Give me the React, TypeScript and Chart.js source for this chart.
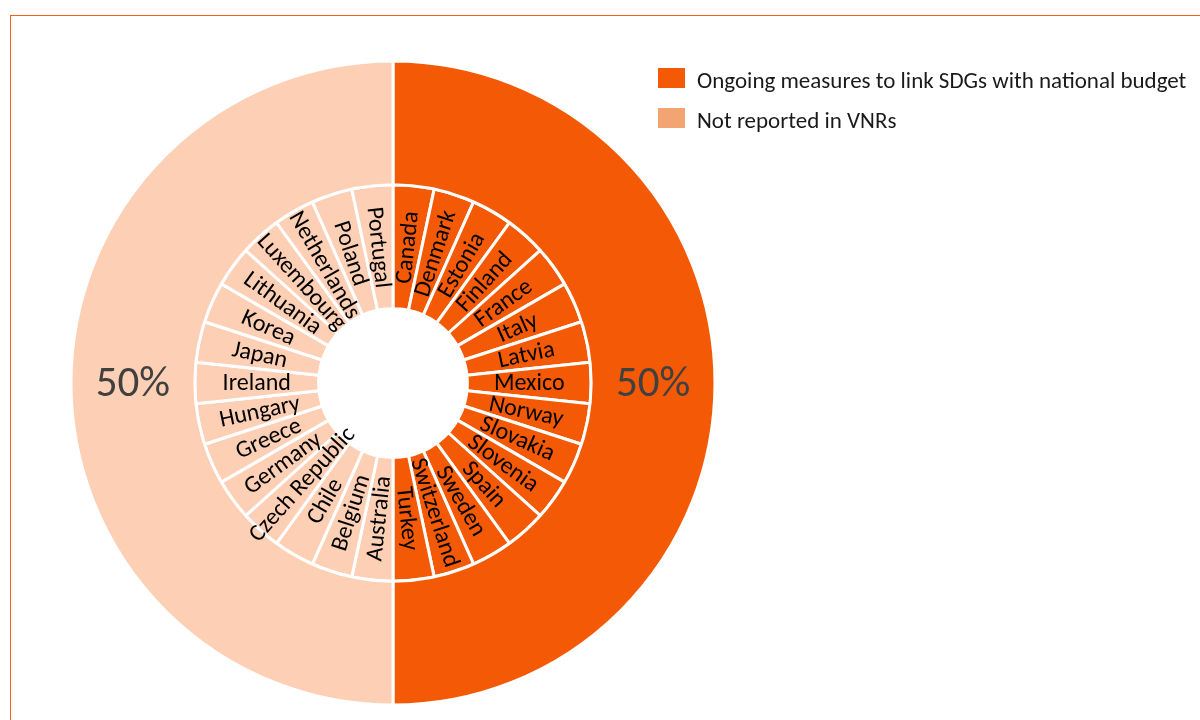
import React, { useEffect, useRef } from "react";
import { Chart, registerables } from "chart.js";

Chart.register(...registerables);

// ---- data ----
const groupLabels = ["Ongoing measures to link SDGs with national budget", "Not reported in VNRs"];
const groupValues = [50, 50];
const ongoingCountries = [
  "Canada", "Denmark", "Estonia", "Finland", "France", "Italy", "Latvia", "Mexico",
  "Norway", "Slovakia", "Slovenia", "Spain", "Sweden", "Switzerland", "Turkey",
];
const notReportedCountries = [
  "Australia", "Belgium", "Chile", "Czech Republic", "Germany", "Greece", "Hungary", "Ireland",
  "Japan", "Korea", "Lithuania", "Luxembourg", "Netherlands", "Poland", "Portugal",
];
const ongoingValues = [1, 1, 1, 1, 1, 1, 1, 1, 1, 1, 1, 1, 1, 1, 1];
const notReportedValues = [1, 1, 1, 1, 1, 1, 1, 1, 1, 1, 1, 1, 1, 1, 1];

// ---- styles ----
const DARK = "#F45905";
const LIGHT = "#FDCFB5";
const LEGEND_LIGHT = "#F2A572";
const FONT = "Carlito, Lato, sans-serif";

const labelPlugin = {
  id: "ringLabels",
  afterDatasetsDraw(chart: any) {
    const ctx = chart.ctx;
    // outer ring percentages
    const outerMeta = chart.getDatasetMeta(0);
    const total = groupValues.reduce((a, b) => a + b, 0);
    outerMeta.data.forEach((arc: any, i: number) => {
      const p = arc.getProps(["x", "y", "startAngle", "endAngle", "innerRadius", "outerRadius"], true);
      const a = (p.startAngle + p.endAngle) / 2;
      const r = (p.innerRadius + p.outerRadius) / 2;
      ctx.save();
      ctx.fillStyle = "#404040";
      ctx.font = `43px ${FONT}`;
      ctx.textAlign = "center";
      ctx.textBaseline = "middle";
      ctx.fillText(Math.round((groupValues[i] / total) * 100) + "%", p.x + r * Math.cos(a), p.y + r * Math.sin(a) + 2);
      ctx.restore();
    });
    // inner ring country names
    const innerMeta = chart.getDatasetMeta(1);
    const names = chart.data.datasets[1].names as string[];
    innerMeta.data.forEach((arc: any, i: number) => {
      const p = arc.getProps(["x", "y", "startAngle", "endAngle", "innerRadius", "outerRadius"], true);
      const a = (p.startAngle + p.endAngle) / 2;
      const r = (p.innerRadius + p.outerRadius) / 2;
      ctx.save();
      ctx.translate(p.x + r * Math.cos(a), p.y + r * Math.sin(a));
      ctx.rotate(Math.cos(a) >= 0 ? a : a + Math.PI);
      ctx.fillStyle = "#000";
      ctx.font = `24px ${FONT}`;
      ctx.textAlign = "center";
      ctx.textBaseline = "middle";
      ctx.fillText(names[i], 0, 1);
      ctx.restore();
    });
  },
};

export default function App() {
  const ref = useRef<HTMLCanvasElement>(null);
  useEffect(() => {
    if (!ref.current) return;
    const innerNames = [...ongoingCountries, ...notReportedCountries];
    const innerVals = [...ongoingValues, ...notReportedValues];
    const innerColors = [...ongoingCountries.map(() => DARK), ...notReportedCountries.map(() => LIGHT)];
    const chart = new Chart(ref.current, {
      type: "doughnut",
      data: {
        labels: groupLabels,
        datasets: [
          {
            data: groupValues,
            backgroundColor: [DARK, LIGHT],
            borderColor: "#ffffff",
            borderWidth: 3,
          },
          {
            data: innerVals,
            names: innerNames,
            backgroundColor: innerColors,
            borderColor: "#ffffff",
            borderWidth: 3,
          } as any,
        ],
      },
      options: {
        responsive: false,
        animation: false,
        devicePixelRatio: 1,
        radius: 322,
        cutout: 74,
        layout: { padding: { left: 71, right: 485, top: 61, bottom: 15 } },
        plugins: { legend: { display: false }, tooltip: { enabled: false } },
      } as any,
      plugins: [labelPlugin],
    });
    return () => chart.destroy();
  }, []);

  const legendItems = [
    { label: groupLabels[0], color: DARK, top: 68 },
    { label: groupLabels[1], color: LEGEND_LIGHT, top: 108 },
  ];

  return (
    <div style={{ position: "absolute", left: 0, top: 0, width: 1200, height: 720, background: "#fff", overflow: "hidden" }}>
      <div
        style={{
          position: "absolute",
          left: 10,
          top: 15,
          width: 1300,
          height: 800,
          borderTop: "1.5px solid #F2601E",
          borderLeft: "1.5px solid #F2601E",
        }}
      />
      <canvas ref={ref} width={1200} height={720} style={{ position: "absolute", left: 0, top: 0, width: 1200, height: 720 }} />
      {legendItems.map((it) => (
        <div key={it.label} style={{ position: "absolute", left: 658, top: it.top, height: 20, display: "flex", alignItems: "center", whiteSpace: "nowrap" }}>
          <div style={{ width: 27, height: 20, background: it.color }} />
          <span style={{ marginLeft: 12, fontFamily: FONT, fontSize: 23, color: "#1a1a1a", lineHeight: "20px", position: "relative", top: 2 }}>{it.label}</span>
        </div>
      ))}
    </div>
  );
}
